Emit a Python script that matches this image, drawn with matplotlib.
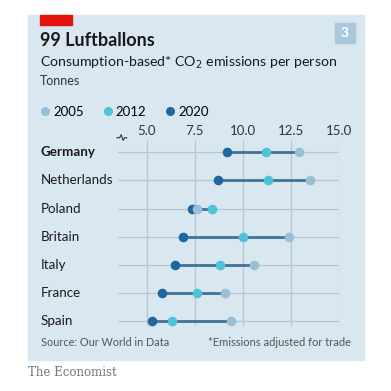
import numpy as np
from matplotlib import pyplot as plt
from matplotlib.patches import Rectangle
from matplotlib.lines import Line2D
from matplotlib.transforms import blended_transform_factory

plt.rcParams["font.family"] = ["Lato", "DejaVu Sans"]

countries = ["Germany", "Netherlands", "Poland", "Britain", "Italy", "France", "Spain"]
e2005 = [12.9, 13.5, 7.6, 12.4, 10.6, 9.1, 9.4]
e2012 = [11.2, 11.3, 8.4, 10.0, 8.8, 7.6, 6.3]
e2020 = [9.2, 8.7, 7.35, 6.9, 6.5, 5.8, 5.3]
xticks = [5.0, 7.5, 10.0, 12.5, 15.0]

c2005 = "#98bfd6"
c2012 = "#4dc3d6"
c2020 = "#1f67a0"
bg = "#d9e7f0"
grid = "#b6c7d3"
W = 391.0


def fx(px):
    return px / W


def fy(py):
    return 1 - py / W


fig = plt.figure(figsize=(3.91, 3.91), dpi=100)
fig.patch.set_facecolor("white")

# panel background, red tag, chart number
fig.patches.append(Rectangle((fx(28), fy(360)), fx(336), (360 - 15) / W,
                             transform=fig.transFigure, color=bg, zorder=0))
fig.patches.append(Rectangle((fx(40), fy(25)), fx(32), 10 / W,
                             transform=fig.transFigure, color="#e3120b", zorder=1))
fig.patches.append(Rectangle((fx(335), fy(43)), fx(20), 20 / W,
                             transform=fig.transFigure, color="#a9c8dc", zorder=1))
fig.text(fx(345), fy(33), "3", color="white", fontsize=10, fontweight="bold",
         ha="center", va="center")

fig.text(fx(40), fy(40), "99 Luftballons", fontsize=13, fontweight="bold",
         color="#1a1a1a", va="center")
fig.text(fx(40), fy(63), "Consumption-based* CO$_2$ emissions per person",
         fontsize=10.2, color="#1a1a1a", va="center")
fig.text(fx(40), fy(81), "Tonnes", fontsize=9, color="#333333", va="center")

ax = fig.add_axes([fx(118.3), fy(326), (339 - 118.3) / W, (326 - 140) / W])
ax.set_zorder(3)
ax.set_facecolor("none")
y = np.arange(len(countries))

for yi, a, b, c in zip(y, e2005, e2012, e2020):
    lo = min(a, b, c)
    hi = max(a, b, c)
    ax.plot([lo, hi], [yi, yi], color="#3f7295", lw=2, zorder=3, solid_capstyle="butt")

ax.scatter(e2020, y, s=48, color=c2020, zorder=4, linewidths=0)
ax.scatter(e2005, y, s=48, color=c2005, zorder=5, linewidths=0)
ax.scatter(e2012, y, s=48, color=c2012, zorder=6, linewidths=0)

ax.set_xlim(3.53, 15.0)
ax.set_ylim(6.18, -0.44)
ax.set_xticks(xticks)
ax.set_xticklabels([f"{t:.1f}" for t in xticks], fontsize=9.5, color="#333333")
ax.xaxis.tick_top()
ax.tick_params(axis="x", length=0, pad=2)
ax.set_yticks([])
ax.grid(axis="x", color=grid, lw=0.9, zorder=1)
ax.set_axisbelow(True)
for yi in y:
    ax.axhline(yi, color=grid, lw=0.9, zorder=1)
for s in ax.spines.values():
    s.set_visible(False)

# axis break symbol
m = -0.52
ax.plot([3.45, 3.6, 3.68, 3.78, 3.86, 3.97], [m, m, m - 0.11, m + 0.09, m, m],
        color="#333333", lw=0.8, clip_on=False)

trans = blended_transform_factory(fig.transFigure, ax.transData)
for yi, name in zip(y, countries):
    fig.text(fx(40.7), yi, name, transform=trans, fontsize=9.6, color="#1a1a1a",
             va="center", fontweight="bold" if name == "Germany" else "normal")

handles = [Line2D([], [], marker="o", ls="", color=c, markersize=5.5)
           for c in (c2005, c2012, c2020)]
fig.legend(handles, ["2005", "2012", "2020"], loc="center left",
           bbox_to_anchor=(fx(27), fy(112)), ncol=3, frameon=False, fontsize=9.5,
           handletextpad=0.1, columnspacing=1.3, handlelength=1.0)

fig.text(fx(40.7), fy(343), "Source: Our World in Data", fontsize=7.8, color="#555555",
         va="center")
fig.text(fx(351), fy(343), "*Emissions adjusted for trade", fontsize=8, color="#555555",
         va="center", ha="right")
fig.text(fx(28), fy(372), "The Economist", fontsize=8.5, color="#777777",
         family="DejaVu Serif", va="center")

fig.savefig("out.png", dpi=100)
